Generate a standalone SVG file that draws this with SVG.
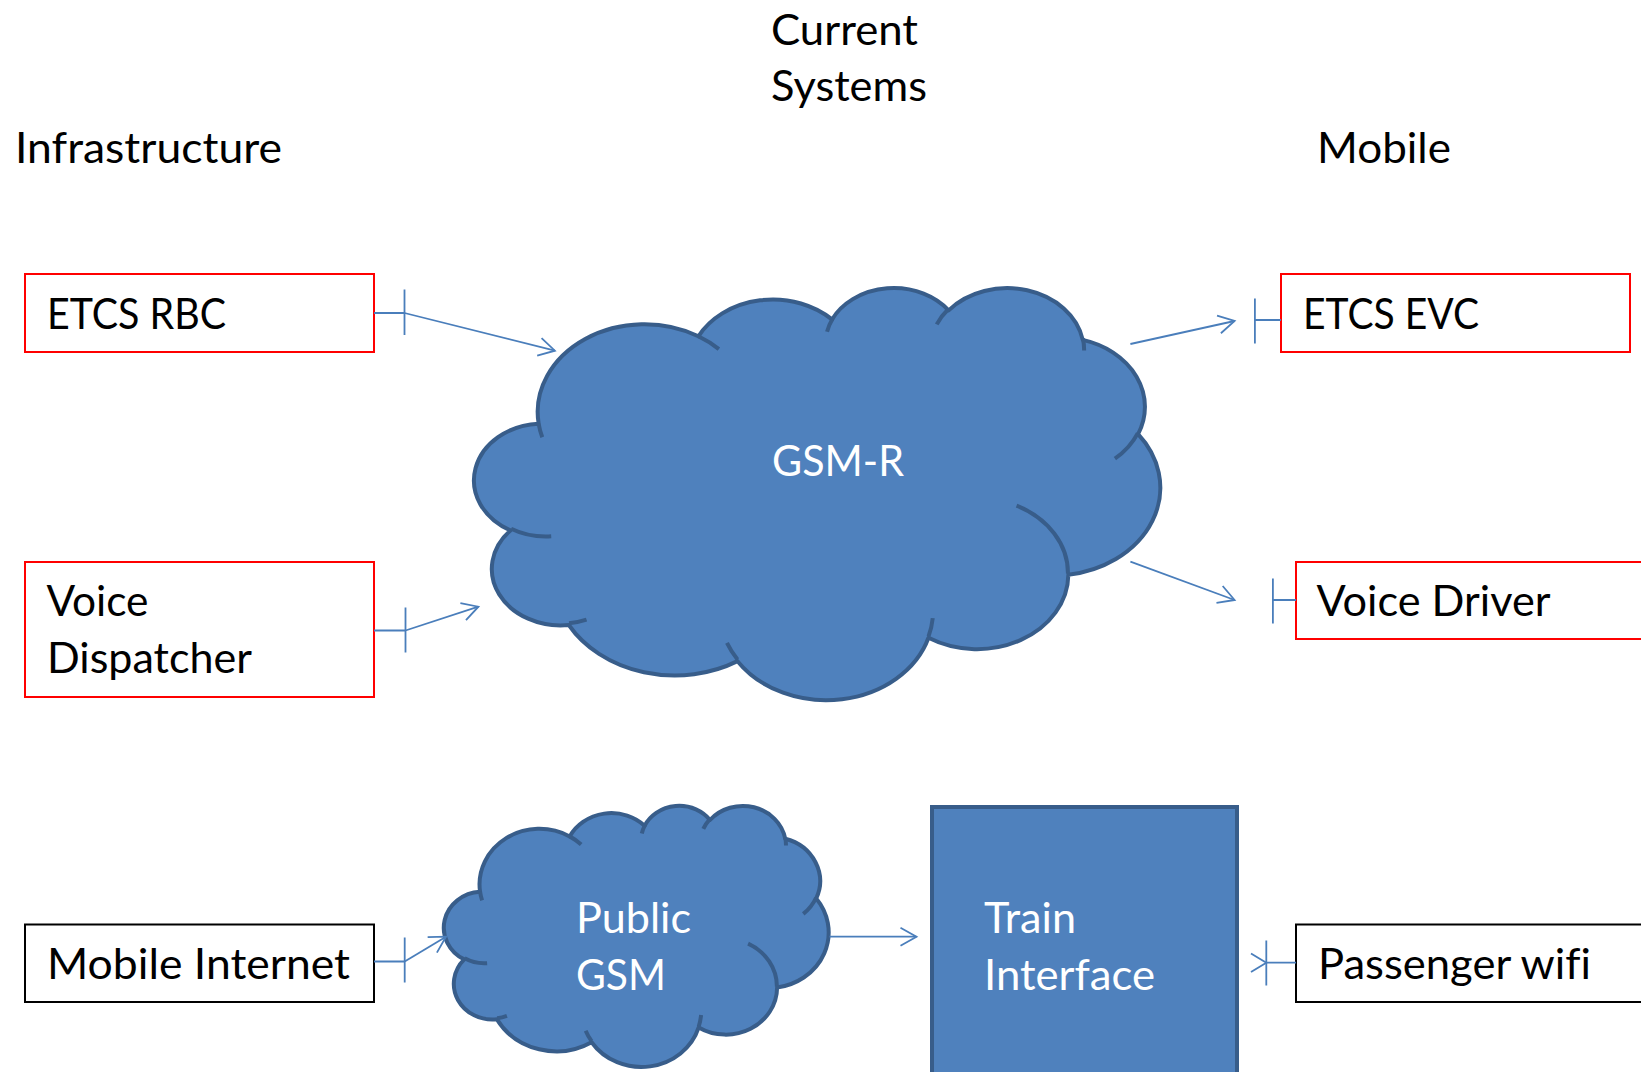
<svg xmlns="http://www.w3.org/2000/svg" width="1641" height="1072" viewBox="0 0 1641 1072">
  <style>
    text { font-family: Lato, "Open Sans", sans-serif; font-size: 43px; font-variant-ligatures: none; }
    .dark { fill: #000000; }
    .light { fill: #ffffff; }
    .box-red { fill: #ffffff; stroke: #ff0000; stroke-width: 2; }
    .box-black { fill: #ffffff; stroke: #000000; stroke-width: 2; }
    .cloud { fill: #4f81bd; stroke: #385d8a; stroke-width: 4; stroke-linejoin: round; }
    .hook { fill: none; stroke: #385d8a; stroke-width: 4; }
    .block { fill: #4f81bd; stroke: #385d8a; stroke-width: 4; }
    .link { fill: none; stroke: #4a7ebb; stroke-width: 1.8; }
  </style>
  <defs>
    <marker id="open-arrow" markerUnits="userSpaceOnUse" markerWidth="24" markerHeight="24" viewBox="-20 -12 24 24" refX="0" refY="0" orient="auto">
      <path d="M -16 -9 L 0 0 L -16 9" fill="none" stroke="#4a7ebb" stroke-width="1.8"/>
    </marker>
    <!-- cloud outline and inner fold arcs, drawn in a 43200 x 43200 unit box -->
    <path id="cloud-outline" vector-effect="non-scaling-stroke" d="M3900 14370 A6753 9190 0 0 1 14005 5203 A5333 7267 0 0 1 22455 3431 A4365 5945 0 0 1 29832 2481 A4857 6595 0 0 1 38317 5577 A5333 7273 0 0 1 41817 15460 A6775 9220 0 0 1 37404 30204 A5785 7867 0 0 1 28556 36814 A6752 9215 0 0 1 16479 39264 A7720 10543 0 0 1 5806 35474 A4360 5918 0 0 1 2112 25554 A4345 5945 0 0 1 3900 14370 Z"/>
    <path id="cloud-hooks" vector-effect="non-scaling-stroke" d="M4693 26177 A4345 5945 0 0 1 2158 25379 M6928 34899 A4360 5918 0 0 1 5820 35280 M16478 39090 A6752 9215 0 0 1 15811 37351 M28827 34751 A6752 9215 0 0 1 28560 36660 M34129 22954 A5785 7867 0 0 1 37378 30088 M41798 15354 A5333 7273 0 0 1 40349 18031 M38324 5426 A4857 6595 0 0 1 38400 6690 M29078 3952 A4857 6595 0 0 1 29820 2340 M22141 4720 A4365 5945 0 0 1 22500 3329 M14000 5192 A6753 9190 0 0 1 15300 6540 M4127 15789 A6753 9190 0 0 1 3900 14370"/>
  </defs>

  <rect width="1641" height="1072" fill="#ffffff"/>

  <!-- headings -->
  <g id="headings" class="dark">
    <text x="771" y="44.5" textLength="147" lengthAdjust="spacingAndGlyphs">Current</text>
    <text x="771" y="100.5" textLength="156" lengthAdjust="spacingAndGlyphs">Systems</text>
    <text x="15" y="163" textLength="267" lengthAdjust="spacingAndGlyphs">Infrastructure</text>
    <text x="1317" y="163" textLength="134" lengthAdjust="spacingAndGlyphs">Mobile</text>
  </g>

  <!-- GSM-R network -->
  <g id="gsm-r">
    <g transform="translate(477 286.7) scale(0.01581 0.009537)">
      <use href="#cloud-outline" class="cloud"/>
      <use href="#cloud-hooks" class="hook"/>
    </g>
    <text class="light" x="772" y="475.5" textLength="132" lengthAdjust="spacingAndGlyphs">GSM-R</text>
  </g>

  <!-- Public GSM network -->
  <g id="public-gsm">
    <g transform="translate(445.5 805) scale(0.008866 0.006042)">
      <use href="#cloud-outline" class="cloud"/>
      <use href="#cloud-hooks" class="hook"/>
    </g>
    <text class="light" x="576" y="933" textLength="115" lengthAdjust="spacingAndGlyphs">Public</text>
    <text class="light" x="576" y="990" textLength="90" lengthAdjust="spacingAndGlyphs">GSM</text>
  </g>

  <!-- Train interface block -->
  <g id="train-interface">
    <rect class="block" x="932" y="807" width="305" height="300"/>
    <text class="light" x="984" y="933" textLength="92" lengthAdjust="spacingAndGlyphs">Train</text>
    <text class="light" x="984" y="990" textLength="171" lengthAdjust="spacingAndGlyphs">Interface</text>
  </g>

  <!-- infrastructure side -->
  <g id="etcs-rbc">
    <rect class="box-red" x="25" y="274" width="349" height="78"/>
    <text class="dark" x="47" y="329" textLength="179" lengthAdjust="spacingAndGlyphs">ETCS RBC</text>
  </g>
  <g id="voice-dispatcher">
    <rect class="box-red" x="25" y="562" width="349" height="135"/>
    <text class="dark" x="46.5" y="616" textLength="102" lengthAdjust="spacingAndGlyphs">Voice</text>
    <text class="dark" x="47" y="673" textLength="205" lengthAdjust="spacingAndGlyphs">Dispatcher</text>
  </g>
  <g id="mobile-internet">
    <rect class="box-black" x="25" y="924.5" width="349" height="77.5"/>
    <text class="dark" x="47" y="979" textLength="303" lengthAdjust="spacingAndGlyphs">Mobile Internet</text>
  </g>

  <!-- mobile side -->
  <g id="etcs-evc">
    <rect class="box-red" x="1281" y="274" width="349" height="78"/>
    <text class="dark" x="1303" y="329" textLength="176" lengthAdjust="spacingAndGlyphs">ETCS EVC</text>
  </g>
  <g id="voice-driver">
    <rect class="box-red" x="1296" y="562" width="360" height="77"/>
    <text class="dark" x="1316.5" y="615.5" textLength="234" lengthAdjust="spacingAndGlyphs">Voice Driver</text>
  </g>
  <g id="passenger-wifi">
    <rect class="box-black" x="1296" y="924.5" width="360" height="77.5"/>
    <text class="dark" x="1318" y="979" textLength="273" lengthAdjust="spacingAndGlyphs">Passenger wifi</text>
  </g>

  <!-- connectors -->
  <g id="connectors" class="link">
    <!-- ETCS RBC to GSM-R -->
    <path d="M374 313 H404.5 M404.5 289.5 V335"/>
    <path d="M404.5 313 L554.9 350.7" marker-end="url(#open-arrow)"/>
    <!-- Voice Dispatcher to GSM-R -->
    <path d="M374 630.5 H405.5 M405.5 607.5 V652.5"/>
    <path d="M405.5 630.5 L478.4 606.7" marker-end="url(#open-arrow)"/>
    <!-- Mobile Internet to Public GSM -->
    <path d="M374 961.5 H404.7 M404.7 937.5 V982.5"/>
    <path d="M404.7 961.5 L446 936.7" marker-end="url(#open-arrow)"/>
    <!-- GSM-R to ETCS EVC -->
    <path d="M1130.4 344 L1234.6 321" marker-end="url(#open-arrow)"/>
    <path d="M1254.9 298.5 V343.5 M1254.9 320 H1281"/>
    <!-- GSM-R to Voice Driver -->
    <path d="M1130.4 561.7 L1234.6 600" marker-end="url(#open-arrow)"/>
    <path d="M1272.9 578.5 V623.5 M1272.9 600 H1296"/>
    <!-- Public GSM to Train Interface -->
    <path d="M829.5 936.7 H916.5" marker-end="url(#open-arrow)"/>
    <!-- Train Interface to Passenger wifi -->
    <path d="M1266.3 940.5 V985.5 M1266.3 962.7 H1296"/>
    <path d="M1251 953.5 L1266.3 962.7 L1251 972"/>
  </g>
</svg>
